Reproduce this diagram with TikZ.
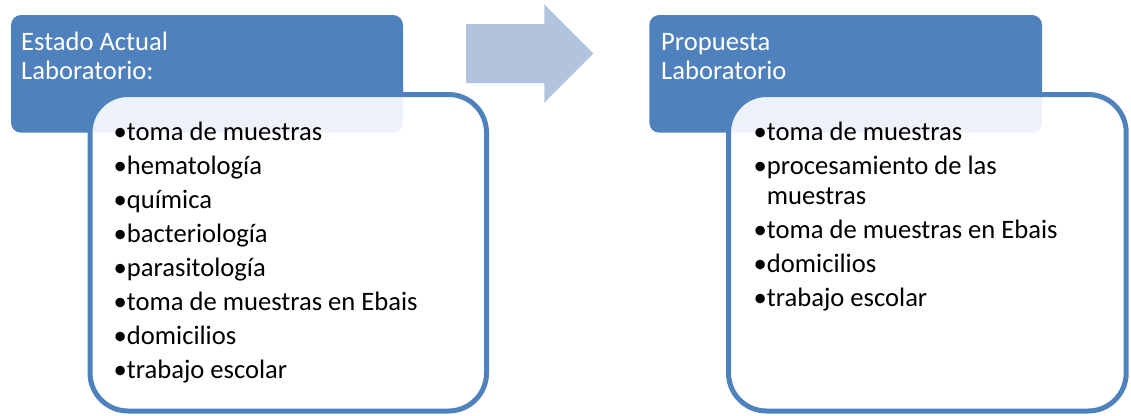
\documentclass[tikz,border=0pt]{standalone}
\usepackage{fontspec}
\setmainfont{Carlito}
\definecolor{accent}{RGB}{79,129,189}
\definecolor{arrowblue}{RGB}{178,195,222}
\begin{document}
\begin{tikzpicture}[x=1pt,y=-1pt,
  header/.style={fill=accent, draw=none, rounded corners=10pt},
  listbox/.style={draw=accent, line width=5pt, fill=white, fill opacity=0.9, rounded corners=38pt},
  headtext/.style={anchor=base west, inner sep=0pt, text=white, font=\fontsize{26.6}{29}\selectfont},
  itemtext/.style={anchor=base west, inner sep=0pt, text=black, font=\fontsize{26.6}{29}\selectfont}]
  \useasboundingbox (0,0) rectangle (1131,415);

  % left column: current state
  \fill[header] (11,15) rectangle (403,132.7);
  \node[headtext] (ha1) at (21,50) {Estado Actual};
  \node[headtext] (ha2) at (21,79) {Laboratorio:};
  \path[listbox] (90,94.5) rectangle (486.5,411);
  \foreach \t [count=\i] in {toma de muestras, hematología, química, bacteriología,
      parasitología, toma de muestras en Ebais, domicilios, trabajo escolar}
    \node[itemtext] (la\i) at (113.5,{140+(\i-1)*34.1}) {•\t};

  % block arrow between the columns
  \fill[arrowblue] (466,24) -- (544.3,24) -- (544.3,4.3) -- (593.3,53.5)
    -- (544.3,102.7) -- (544.3,83) -- (466,83) -- cycle;

  % right column: proposal
  \fill[header] (649.3,15) rectangle (1042,132.7);
  \node[headtext] (hb1) at (661,50) {Propuesta};
  \node[headtext] (hb2) at (661,79) {Laboratorio};
  \path[listbox] (728.5,94.5) rectangle (1126.2,411);
  \node[itemtext] (lb1) at (753.5,140) {•toma de muestras};
  \node[itemtext] (lb2) at (753.5,174) {•procesamiento de las};
  \node[itemtext] (lb2b) at (766.7,204) {muestras};
  \node[itemtext] (lb3) at (753.5,238.7) {•toma de muestras en Ebais};
  \node[itemtext] (lb4) at (753.5,272.7) {•domicilios};
  \node[itemtext] (lb5) at (753.5,306.5) {•trabajo escolar};
\end{tikzpicture}
\end{document}
